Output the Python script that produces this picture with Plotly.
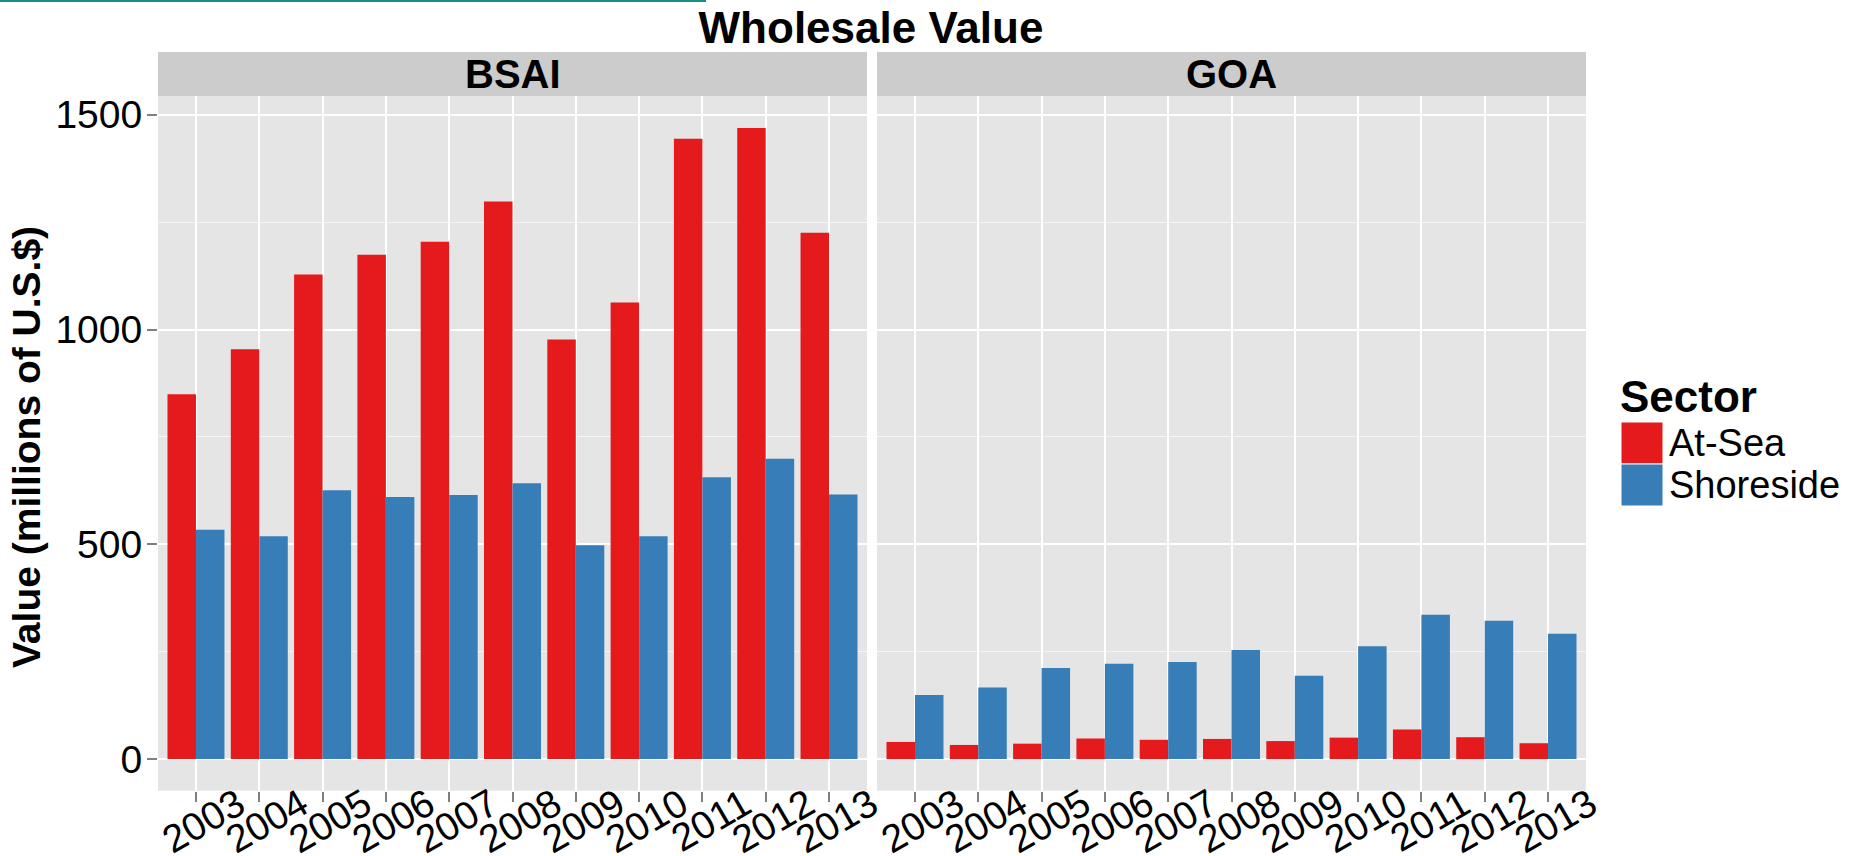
import plotly.graph_objects as go

# ---------------- data ----------------
years = ["2003", "2004", "2005", "2006", "2007", "2008", "2009", "2010", "2011", "2012", "2013"]
regions = ["BSAI", "GOA"]
sectors = ["At-Sea", "Shoreside"]

bsai_atsea = [849, 954, 1128, 1174, 1204, 1298, 977, 1063, 1444, 1469, 1225]
bsai_shoreside = [534, 519, 626, 610, 615, 642, 498, 519, 656, 699, 616]
goa_atsea = [40, 33, 36, 48, 45, 47, 42, 50, 69, 51, 37]
goa_shoreside = [149, 167, 212, 222, 226, 254, 194, 263, 336, 322, 292]

y_tickvals = [0, 500, 1000, 1500]
y_minor = [250, 750, 1250]

sector_colors = {"At-Sea": "#E41A1C", "Shoreside": "#377EB8"}

# ---------------- layout constants (pixels of 1860x856 page) ----------------
W, H = 1860, 856
FONT = "Liberation Sans, Arial, Helvetica, sans-serif"

def px_x(p):
    return p / W

def px_y(p):
    return 1 - p / H

panel_x = {"BSAI": (158, 867), "GOA": (877, 1586)}
plot_top, plot_bottom = 96, 790.7
strip_top = 52

fig = go.Figure()

data = {
    ("BSAI", "At-Sea"): bsai_atsea,
    ("BSAI", "Shoreside"): bsai_shoreside,
    ("GOA", "At-Sea"): goa_atsea,
    ("GOA", "Shoreside"): goa_shoreside,
}

for i, region in enumerate(regions):
    xa = "x" if i == 0 else "x2"
    ya = "y" if i == 0 else "y2"
    for sector in sectors:
        fig.add_trace(go.Bar(
            x=years,
            y=data[(region, sector)],
            name=sector,
            marker=dict(color=sector_colors[sector], line=dict(width=0)),
            xaxis=xa,
            yaxis=ya,
            offsetgroup=sector,
            showlegend=False,
            hovertemplate=region + " " + sector + " %{x}: %{y}<extra></extra>",
        ))

y_range = [-73.5, 1543.5]

xaxis_common = dict(
    type="category",
    range=[-0.6, len(years) - 0.4],
    showgrid=True, gridcolor="white", gridwidth=2,
    ticks="outside", ticklen=10, tickwidth=2, tickcolor="#7F7F7F",
    tickangle=-30,
    tickfont=dict(family=FONT, size=39, color="black"),
    ticklabelshift=42,
    ticklabelstandoff=-35,
    showline=False, zeroline=False,
    automargin=False,
    fixedrange=True,
)

yaxis_common = dict(
    range=y_range,
    tickvals=y_tickvals,
    showgrid=True, gridcolor="white", gridwidth=2,
    minor=dict(tickvals=y_minor, showgrid=True, gridcolor="#F5F5F5", gridwidth=1, ticks=""),
    zeroline=False, showline=False,
    automargin=False,
    fixedrange=True,
    domain=[px_y(plot_bottom), px_y(plot_top)],
)

fig.update_layout(
    width=W, height=H,
    autosize=False,
    margin=dict(l=0, r=0, t=0, b=0, pad=0),
    paper_bgcolor="white",
    plot_bgcolor="#E5E5E5",
    barmode="group",
    bargap=0.1,
    bargroupgap=0,
    showlegend=False,
    xaxis=dict(domain=[px_x(panel_x["BSAI"][0]), px_x(panel_x["BSAI"][1])], anchor="y", **xaxis_common),
    xaxis2=dict(domain=[px_x(panel_x["GOA"][0]), px_x(panel_x["GOA"][1])], anchor="y2", **xaxis_common),
    yaxis=dict(
        anchor="x",
        ticks="outside", ticklen=10, tickwidth=2, tickcolor="#7F7F7F",
        tickfont=dict(family=FONT, size=39, color="black"),
        ticklabelstandoff=-3,
        **yaxis_common,
    ),
    yaxis2=dict(
        anchor="x2",
        matches="y",
        showticklabels=False,
        ticks="",
        **yaxis_common,
    ),
    title=dict(
        text="<b>Wholesale Value</b>",
        font=dict(family=FONT, size=44, color="black"),
        x=871 / W, xanchor="center", xref="paper",
        y=1 - 28 / H, yanchor="middle", yref="container",
        automargin=False,
    ),
)

shapes = []
annotations = []

# facet strips
for i, region in enumerate(regions):
    xd = "x domain" if i == 0 else "x2 domain"
    shapes.append(dict(type="rect", xref=xd, yref="paper", x0=0, x1=1,
                       y0=px_y(plot_top), y1=px_y(strip_top),
                       fillcolor="#CCCCCC", line=dict(width=0), layer="below"))
    annotations.append(dict(text="<b>" + region + "</b>", xref=xd, yref="paper",
                            x=0.5, y=px_y((plot_top + strip_top) / 2),
                            xanchor="center", yanchor="middle", showarrow=False,
                            font=dict(family=FONT, size=40, color="black")))

# y axis title
annotations.append(dict(text="<b>Value (millions of U.S.$)</b>", xref="paper", yref="paper",
                        x=px_x(26), y=px_y(447), textangle=-90,
                        xanchor="center", yanchor="middle", showarrow=False,
                        font=dict(family=FONT, size=39, color="black")))

# legend (drawn manually so the keys match ggplot's large squares)
annotations.append(dict(text="<b>Sector</b>", xref="paper", yref="paper",
                        x=px_x(1618), y=px_y(397), xanchor="left", yanchor="middle",
                        showarrow=False, font=dict(family=FONT, size=44, color="black")))
key_top = 422
key_size = 42
for j, sector in enumerate(sectors):
    y0 = key_top + j * key_size
    shapes.append(dict(type="rect", xref="paper", yref="paper",
                       x0=px_x(1621), x1=px_x(1663), y0=px_y(y0 + key_size), y1=px_y(y0),
                       fillcolor=sector_colors[sector], line=dict(width=1, color="white")))
    annotations.append(dict(text=sector, xref="paper", yref="paper",
                            x=px_x(1667), y=px_y(y0 + key_size / 2), xanchor="left", yanchor="middle",
                            showarrow=False, font=dict(family=FONT, size=38, color="black")))

# thin teal rule at the very top-left of the reference image
shapes.append(dict(type="line", xref="paper", yref="paper", x0=0, x1=px_x(706),
                   y0=px_y(1), y1=px_y(1), line=dict(color="#1A8C8C", width=2)))

fig.update_layout(shapes=shapes, annotations=annotations)

fig.write_html(
    "out.html",
    config={"displayModeBar": False},
    post_script="document.body.style.margin='0';document.documentElement.style.overflow='hidden';",
)
